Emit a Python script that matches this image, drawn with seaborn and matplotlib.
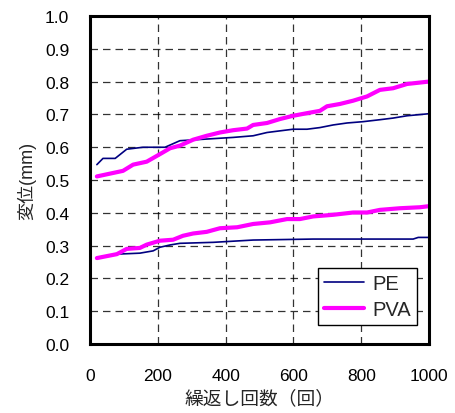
import matplotlib
matplotlib.use("Agg")
import matplotlib.pyplot as plt
import seaborn as sns
import pandas as pd

# Upper pair
pe_hi_x = [20, 38, 74, 108, 156, 221, 265, 344, 422, 481, 522, 560, 599, 640, 678, 717, 758, 805, 855, 894, 935, 997]
pe_hi_y = [0.547, 0.566, 0.566, 0.594, 0.600, 0.600, 0.620, 0.625, 0.630, 0.635, 0.645, 0.650, 0.655, 0.655, 0.660, 0.668, 0.674, 0.678, 0.684, 0.689, 0.696, 0.702]
pva_hi_x = [20, 97, 127, 167, 206, 236, 265, 304, 344, 383, 422, 463, 481, 522, 560, 599, 640, 678, 699, 737, 776, 817, 855, 894, 935, 997]
pva_hi_y = [0.511, 0.528, 0.547, 0.556, 0.579, 0.597, 0.605, 0.623, 0.635, 0.645, 0.652, 0.657, 0.668, 0.674, 0.686, 0.696, 0.704, 0.711, 0.725, 0.732, 0.742, 0.755, 0.775, 0.780, 0.793, 0.800]
# Lower pair
pe_lo_x = [20, 79, 147, 186, 206, 236, 265, 363, 481, 658, 953, 968, 997]
pe_lo_y = [0.264, 0.274, 0.277, 0.284, 0.295, 0.302, 0.307, 0.310, 0.317, 0.320, 0.320, 0.325, 0.325]
pva_lo_x = [20, 79, 108, 147, 167, 206, 245, 274, 304, 344, 383, 434, 481, 531, 581, 619, 658, 717, 776, 817, 855, 914, 973, 997]
pva_lo_y = [0.262, 0.274, 0.290, 0.293, 0.303, 0.315, 0.318, 0.330, 0.337, 0.342, 0.353, 0.356, 0.366, 0.371, 0.381, 0.381, 0.389, 0.394, 0.401, 0.401, 0.409, 0.414, 0.417, 0.420]

x_ticks = [0, 200, 400, 600, 800, 1000]
y_ticks = [0.0, 0.1, 0.2, 0.3, 0.4, 0.5, 0.6, 0.7, 0.8, 0.9, 1.0]

sns.set_style("white")
plt.rcParams['font.family'] = ['Liberation Sans', 'Noto Sans CJK JP', 'DejaVu Sans']

fig = plt.figure(figsize=(4.55, 4.14), dpi=100)
ax = fig.add_axes([0.198, 0.1667, 0.745, 0.792])

navy = "#000080"
mag = "#FF00FF"

def df(x, y):
    return pd.DataFrame({"x": x, "y": y})

sns.lineplot(data=df(pe_hi_x, pe_hi_y), x="x", y="y", ax=ax, color=navy, lw=1.2, label="PE")
sns.lineplot(data=df(pva_hi_x, pva_hi_y), x="x", y="y", ax=ax, color=mag, lw=3, label="PVA")
sns.lineplot(data=df(pe_lo_x, pe_lo_y), x="x", y="y", ax=ax, color=navy, lw=1.2)
sns.lineplot(data=df(pva_lo_x, pva_lo_y), x="x", y="y", ax=ax, color=mag, lw=3)

ax.set_xlim(0, 1000)
ax.set_ylim(0, 1.0)
ax.set_xticks(x_ticks)
ax.set_yticks(y_ticks)
ax.set_yticklabels([f"{v:.1f}" for v in y_ticks])
ax.grid(True, color="black", linestyle=(0, (6, 4)), linewidth=0.9, alpha=0.8)
ax.tick_params(direction="in", length=5, width=1.5, labelsize=12.5, colors="black")
ax.tick_params(axis="y", pad=15)
ax.tick_params(axis="x", pad=17)
for s in ax.spines.values():
    s.set_linewidth(2.2)
    s.set_color("black")

ax.set_xlabel("繰返し回数（回）", fontsize=13.5, labelpad=5)
ax.set_ylabel("変位(mm)", fontsize=13, labelpad=6)

leg = ax.legend(loc="lower right", bbox_to_anchor=(0.965, 0.058), borderaxespad=0,
                fontsize=14.5, frameon=True, fancybox=False, edgecolor="black",
                framealpha=1, handlelength=2.0, borderpad=0.3, labelspacing=0.35,
                handletextpad=0.4)
leg.get_frame().set_linewidth(1.0)

fig.savefig("out.png", dpi=100)
